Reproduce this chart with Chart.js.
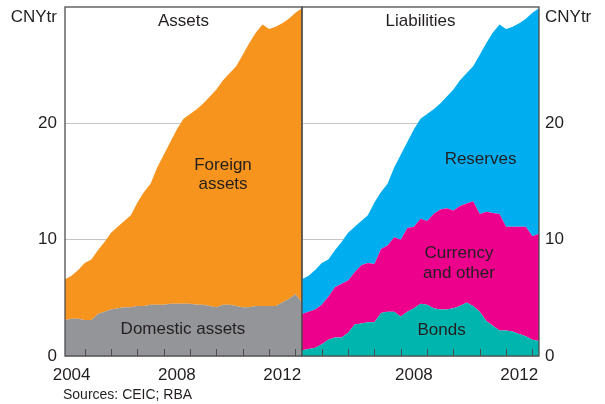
<!DOCTYPE html>
<html>
<head>
<meta charset="utf-8">
<title>PBC balance sheet</title>
<script src="https://cdn.jsdelivr.net/npm/chart.js@4.4.1/dist/chart.umd.min.js"></script>
<style>
  html, body { margin: 0; padding: 0; background: #fff; }
  #wrap { position: relative; width: 605px; height: 404px; overflow: hidden; }
  #assetsChart { position: absolute; left: 0; top: 0; }
  #liabChart { position: absolute; left: 300px; top: 0; }
  #sources { position: absolute; left: 63px; top: 386px; font: 14px 'Liberation Sans', Arial, sans-serif; color: #231f20; }
</style>
</head>
<body>
<div id="wrap">
  <canvas id="assetsChart" width="304" height="404" style="width:304px;height:404px"></canvas>
  <canvas id="liabChart" width="305" height="404" style="width:305px;height:404px"></canvas>
  <div id="sources">Sources: CEIC; RBA</div>
</div>
<script>
(function () {
    'use strict';

    // ─── Data (CNY trillion, quarterly) ──────────────────────────────────────
    const quarters = [2004.25, 2004.5, 2004.75, 2005, 2005.25, 2005.5, 2005.75, 2006, 2006.25, 2006.5,
        2006.75, 2007, 2007.25, 2007.5, 2007.75, 2008, 2008.25, 2008.5, 2008.75, 2009, 2009.25, 2009.5,
        2009.75, 2010, 2010.25, 2010.5, 2010.75, 2011, 2011.25, 2011.5, 2011.75, 2012, 2012.25, 2012.5,
        2012.75, 2013, 2013.25];

    const domesticAssets = [3.1, 3.2, 3.2, 3.1, 3.1, 3.6, 3.8, 4.0, 4.1, 4.2, 4.2, 4.3, 4.3, 4.4, 4.4, 4.4,
        4.5, 4.5, 4.5, 4.5, 4.4, 4.4, 4.3, 4.2, 4.4, 4.4, 4.3, 4.2, 4.2, 4.3, 4.3, 4.3, 4.3, 4.6, 4.9, 5.3, 4.6];
    const foreignAssets = [3.5, 3.7, 4.2, 4.9, 5.2, 5.5, 6.0, 6.6, 7.0, 7.4, 7.9, 8.9, 9.8, 10.4, 11.8, 12.9,
        13.9, 15.0, 15.9, 16.3, 16.8, 17.3, 18.0, 18.7, 19.3, 19.9, 20.6, 21.7, 22.7, 23.5, 24.2, 23.8, 24.0,
        24.0, 24.1, 24.2, 25.3];

    const bonds = [0.5, 0.6, 0.7, 1.0, 1.4, 1.6, 1.6, 2.0, 2.7, 2.8, 2.9, 2.9, 3.7, 3.8, 3.8, 3.4, 3.8, 4.1,
        4.5, 4.4, 4.1, 4.0, 4.0, 4.1, 4.3, 4.6, 4.3, 3.8, 3.0, 2.6, 2.2, 2.2, 2.1, 1.9, 1.7, 1.4, 1.3];
    const currencyOther = [3.1, 3.2, 3.3, 3.4, 3.7, 4.3, 4.6, 4.5, 4.5, 5.0, 5.1, 5.0, 5.5, 5.7, 6.4, 6.6,
        7.2, 7.0, 7.3, 7.2, 8.1, 8.6, 8.7, 8.4, 8.6, 8.5, 9.0, 8.4, 9.4, 9.7, 10.0, 8.9, 9.0, 9.2, 9.4, 8.9, 9.2];
    const reserves = [3.0, 3.1, 3.4, 3.6, 3.2, 3.2, 3.6, 4.1, 3.9, 3.8, 4.1, 5.3, 4.9, 5.3, 6.0, 7.3, 7.4,
        8.4, 8.6, 9.2, 9.0, 9.1, 9.6, 10.4, 10.8, 11.2, 11.6, 13.7, 14.5, 15.5, 16.3, 17.0, 17.2, 17.5, 17.9,
        19.2, 19.4];

    const yTicks = [0, 10, 20];
    const yMax = 30;
    const yearTicks = [2005, 2006, 2007, 2008, 2009, 2010, 2011, 2012, 2013];
    const assetsYearLabels = [2004, 2008, 2012];
    const liabYearLabels = [2008, 2012];

    const INK   = '#231f20';
    const FRAME = '#4d4d4d';
    const FONT  = "'Liberation Sans', Arial, sans-serif";

    Chart.defaults.font.family = FONT;
    Chart.defaults.color = INK;

    function series(vals, colour, fill) {
        return {
            data: quarters.map((q, i) => ({ x: q, y: vals[i] })),
            backgroundColor: colour,
            borderWidth: 0,
            pointRadius: 0,
            tension: 0,
            fill: fill,
        };
    }

    // ─── Frame, inward year ticks, titles and in-area labels ─────────────────
    const decor = {
        id: 'decor',
        afterDatasetsDraw(chart, args, opts) {
            const ctx = chart.ctx, ca = chart.chartArea;
            const xs = chart.scales.x, ys = chart.scales.y;
            ctx.save();

            ctx.strokeStyle = FRAME;
            ctx.lineWidth = 1;
            yearTicks.forEach(yr => {
                const px = Math.round(xs.getPixelForValue(yr)) + 0.5;
                ctx.beginPath();
                ctx.moveTo(px, ca.bottom);
                ctx.lineTo(px, ca.bottom - 7);
                ctx.stroke();
            });
            ctx.lineWidth = 1.3;
            ctx.strokeRect(ca.left, ca.top, ca.right - ca.left, ca.bottom - ca.top);

            ctx.fillStyle = INK;
            ctx.font = '17px ' + FONT;
            ctx.textBaseline = 'middle';
            ctx.textAlign = 'center';
            ctx.fillText(opts.title, (ca.left + ca.right) / 2, ca.top + 14);
            opts.labels.forEach(l => {
                ctx.fillText(l.text, xs.getPixelForValue(l.x), ys.getPixelForValue(l.y));
            });

            if (opts.unitSide === 'left') {
                ctx.textAlign = 'right';
                ctx.fillText('CNYtr', ca.left - 8, ca.top + 10);
            } else {
                ctx.textAlign = 'left';
                ctx.fillText('CNYtr', ca.right + 6, ca.top + 10);
            }
            ctx.restore();
        },
    };

    function makeChart(id, datasets, side, yearLabels, title, labels) {
        return new Chart(document.getElementById(id), {
            type: 'line',
            data: { datasets: datasets },
            options: {
                responsive: false,
                animation: false,
                events: [],
                layout: { padding: { top: 7, left: side === 'left' ? 0 : 2, right: side === 'left' ? 2 : 0 } },
                scales: {
                    x: {
                        type: 'linear',
                        min: quarters[0],
                        max: quarters[quarters.length - 1],
                        grid: { display: false },
                        border: { display: false },
                        afterBuildTicks: s => { s.ticks = yearLabels.map(y => ({ value: y + 0.5 })); },
                        afterFit: s => { s.height = 48; s.paddingLeft = 0; s.paddingRight = 0; },
                        ticks: {
                            autoSkip: false,
                            maxRotation: 0,
                            padding: 1,
                            color: INK,
                            font: { size: 17 },
                            callback: v => String(Math.floor(v)),
                        },
                    },
                    y: {
                        position: side,
                        stacked: true,
                        min: 0,
                        max: yMax,
                        afterBuildTicks: s => { s.ticks = yTicks.map(v => ({ value: v })); },
                        afterFit: s => {
                            s.width = side === 'left' ? 65 : 66;
                            s.paddingTop = 0;
                            s.paddingBottom = 0;
                        },
                        grid: { color: '#c4c4c4', lineWidth: 1, drawTicks: false },
                        border: { display: false },
                        ticks: {
                            padding: side === 'left' ? 8 : 6,
                            color: INK,
                            font: { size: 17 },
                        },
                    },
                },
                plugins: {
                    legend: { display: false },
                    tooltip: { enabled: false },
                    decor: { title: title, labels: labels, unitSide: side },
                },
            },
            plugins: [decor],
        });
    }

    document.addEventListener('DOMContentLoaded', function () {
        makeChart('assetsChart', [
            series(domesticAssets, '#939598', 'origin'),
            series(foreignAssets, '#f7941d', '-1'),
        ], 'left', assetsYearLabels, 'Assets', [
            { text: 'Foreign', x: 2010.25, y: 16.4 },
            { text: 'assets', x: 2010.25, y: 14.8 },
            { text: 'Domestic assets', x: 2008.73, y: 2.3 },
        ]);

        makeChart('liabChart', [
            series(bonds, '#00b5ad', 'origin'),
            series(currencyOther, '#ec008c', '-1'),
            series(reserves, '#00aeef', '-1'),
        ], 'right', liabYearLabels, 'Liabilities', [
            { text: 'Reserves', x: 2011.03, y: 16.9 },
            { text: 'Currency', x: 2010.21, y: 8.85 },
            { text: 'and other', x: 2010.21, y: 7.13 },
            { text: 'Bonds', x: 2009.55, y: 2.24 },
        ]);
    });
})();
</script>
</body>
</html>
